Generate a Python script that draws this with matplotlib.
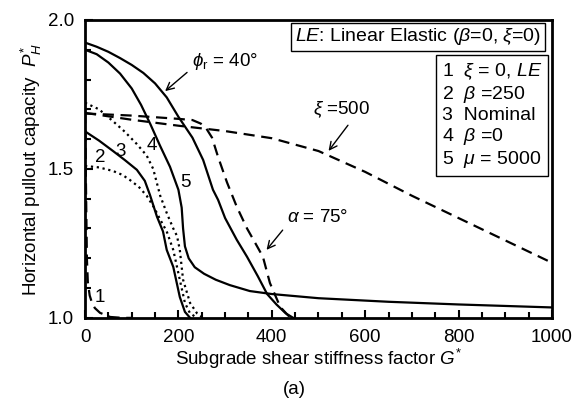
import matplotlib
matplotlib.use("Agg")
import matplotlib.pyplot as plt
from matplotlib.ticker import MultipleLocator

plt.rcParams["font.family"] = ["Liberation Sans", "DejaVu Sans"]
plt.rcParams["mathtext.fontset"] = "custom"
plt.rcParams["mathtext.rm"] = "Liberation Sans"
plt.rcParams["mathtext.it"] = "Liberation Sans:italic"
plt.rcParams["mathtext.bf"] = "Liberation Sans:bold"

# 1: xi = 0, LE
g1 = [0, 1, 2, 4, 6, 10, 15, 21, 32, 54, 80, 100]
p1 = [1.69, 1.6, 1.45, 1.2, 1.12, 1.075, 1.05, 1.033, 1.017, 1.003, 1.0, 1.0]
# 2: beta = 250
g2 = [0, 30, 60, 80, 96, 115, 132, 148, 161, 175, 189, 203, 214, 225, 240]
p2 = [1.51, 1.505, 1.493, 1.48, 1.463, 1.44, 1.41, 1.37, 1.33, 1.29, 1.228, 1.128, 1.05, 1.015, 1.0]
# 3: nominal
g3 = [0, 30, 60, 85, 111, 128, 139, 154, 167, 175, 189, 203, 214, 225]
p3 = [1.626, 1.595, 1.56, 1.53, 1.497, 1.46, 1.413, 1.34, 1.29, 1.228, 1.171, 1.07, 1.02, 1.0]
# 4: beta = 0
g4 = [0, 30, 60, 85, 110, 132, 146, 161, 175, 189, 197, 203, 210, 225, 240, 253]
p4 = [1.722, 1.7, 1.66, 1.625, 1.585, 1.545, 1.5, 1.41, 1.352, 1.3, 1.275, 1.228, 1.128, 1.05, 1.015, 1.0]
# 5: mu = 5000
g5 = [0, 25, 50, 75, 100, 120, 140, 160, 182, 200, 207, 210, 214, 222, 235, 255, 280, 310, 353, 400, 500, 650, 800, 1000]
p5 = [1.90, 1.885, 1.857, 1.82, 1.77, 1.715, 1.65, 1.58, 1.507, 1.43, 1.37, 1.30, 1.24, 1.20, 1.17, 1.148, 1.128, 1.11, 1.09, 1.08, 1.066, 1.054, 1.045, 1.035]
# phi_r = 40 deg
g6 = [0, 25, 50, 75, 100, 125, 150, 175, 200, 215, 230, 253, 274, 285, 300, 325, 347, 370, 390, 410, 430, 446]
p6 = [1.924, 1.91, 1.893, 1.872, 1.849, 1.822, 1.787, 1.74, 1.675, 1.64, 1.605, 1.53, 1.43, 1.396, 1.335, 1.262, 1.205, 1.14, 1.08, 1.045, 1.015, 1.0]
# alpha = 75 deg
g7 = [0, 100, 200, 230, 248, 260, 272, 285, 304, 325, 347, 365, 381, 396, 418, 435, 443]
p7 = [1.686, 1.679, 1.668, 1.664, 1.652, 1.635, 1.605, 1.54, 1.455, 1.373, 1.30, 1.25, 1.205, 1.117, 1.037, 1.008, 1.0]
# xi = 500
g8 = [0, 100, 200, 300, 400, 500, 600, 700, 800, 900, 1000]
p8 = [1.688, 1.665, 1.645, 1.627, 1.603, 1.56, 1.49, 1.41, 1.335, 1.26, 1.185]

fig = plt.figure(figsize=(5.8, 4.07), dpi=100)
ax = fig.add_axes([0.1466, 0.219, 0.805, 0.732])

lw = 1.6
dash = (0, (5, 3))
ax.plot(g1, p1, color="k", lw=lw, linestyle=dash)
ax.plot(g2, p2, color="k", lw=lw, linestyle=":")
ax.plot(g3, p3, color="k", lw=lw)
ax.plot(g4, p4, color="k", lw=lw, linestyle=":")
ax.plot(g5, p5, color="k", lw=lw)
ax.plot(g6, p6, color="k", lw=lw)
ax.plot(g7, p7, color="k", lw=lw, linestyle=dash)
ax.plot(g8, p8, color="k", lw=lw, linestyle=dash)

ax.set_xlim(0, 1000)
ax.set_ylim(1.0, 2.0)
ax.xaxis.set_major_locator(MultipleLocator(200))
ax.xaxis.set_minor_locator(MultipleLocator(50))
ax.yaxis.set_major_locator(MultipleLocator(0.5))
ax.yaxis.set_minor_locator(MultipleLocator(0.1))
ax.yaxis.set_major_formatter(plt.FormatStrFormatter("%.1f"))
ax.tick_params(which="both", direction="in", labelsize=13.5, width=1.5)
ax.tick_params(which="major", length=6, pad=8)
ax.tick_params(which="minor", length=4)
for s in ax.spines.values():
    s.set_linewidth(2)

ax.set_xlabel("Subgrade shear stiffness factor $G^{*}$", fontsize=13.5, labelpad=1)
ax.set_ylabel("Horizontal pullout capacity  $P_H^{*}$", fontsize=13.5, labelpad=3)

fs = 13.5
ax.text(32, 1.067, "1", fontsize=fs, ha="center", va="center")
ax.text(32, 1.537, "2", fontsize=fs, ha="center", va="center")
ax.text(75, 1.557, "3", fontsize=fs, ha="center", va="center")
ax.text(143, 1.58, "4", fontsize=fs, ha="center", va="center")
ax.text(216, 1.456, "5", fontsize=fs, ha="center", va="center")

ax.annotate(r"$\phi_{\rm r}$ = 40°", xy=(167, 1.755), xytext=(229, 1.859),
            fontsize=fs, va="center", ha="left",
            arrowprops=dict(arrowstyle="->", color="k", lw=1.0, relpos=(0.0, 0.2)))
ax.annotate(r"$\xi$ =500", xy=(518, 1.553), xytext=(488, 1.698),
            fontsize=fs, va="center", ha="left",
            arrowprops=dict(arrowstyle="->", color="k", lw=1.0, relpos=(0.68, 0.0)))
ax.annotate(r"$\alpha$ = 75°", xy=(385, 1.221), xytext=(433, 1.336),
            fontsize=fs, va="center", ha="left",
            arrowprops=dict(arrowstyle="->", color="k", lw=1.0, relpos=(0.0, 0.1)))

ax.text(0.976, 0.943, r"$\it{LE}$: Linear Elastic ($\beta$=0, $\xi$=0)",
        transform=ax.transAxes, fontsize=14, ha="right", va="center",
        bbox=dict(boxstyle="square,pad=0.2", fc="white", ec="k", lw=1))
ax.text(0.765, 0.862,
        "1  $\\xi$ = 0, $\\it{LE}$\n2  $\\beta$ =250\n3  Nominal\n4  $\\beta$ =0\n5  $\\mu$ = 5000",
        transform=ax.transAxes, fontsize=14, ha="left", va="top", linespacing=1.15,
        bbox=dict(boxstyle="square,pad=0.3", fc="white", ec="k", lw=1))

fig.text(0.508, 0.042, "(a)", fontsize=13.5, ha="center", va="center")

fig.savefig("out.png", dpi=100)
